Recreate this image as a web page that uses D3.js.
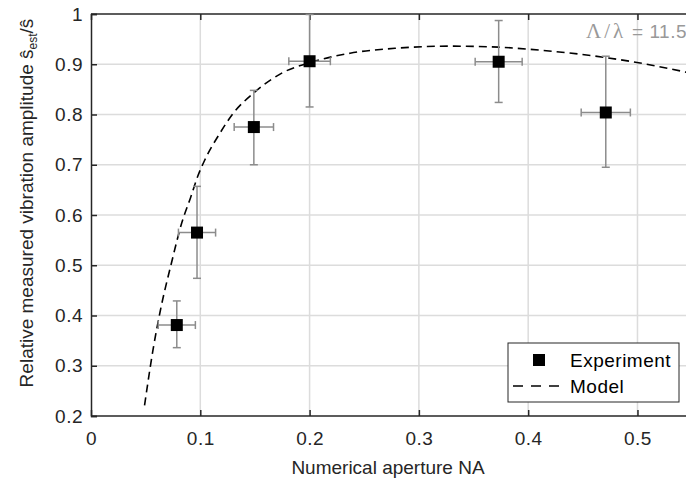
<!DOCTYPE html>
<html>
<head>
<meta charset="utf-8">
<script src="https://cdn.jsdelivr.net/npm/d3@7"></script>
<style>
  body { margin: 0; background: #fff; }
  text { font-family: "Liberation Sans", Arial, sans-serif; }
</style>
</head>
<body>
<script>
  /* measured points */
  var expNA   = [0.0785, 0.097, 0.149, 0.200, 0.373, 0.471];
  var expVal  = [0.381, 0.565, 0.775, 0.906, 0.905, 0.804];
  var expLo   = [0.336, 0.474, 0.700, 0.815, 0.824, 0.695];
  var expHi   = [0.429, 0.657, 0.848, 0.999, 0.987, 0.916];
  var expNAerr = [0.017, 0.017, 0.018, 0.019, 0.0215, 0.0225];

  /* model curve */
  var modelNA  = [0.049, 0.057, 0.063, 0.074, 0.083, 0.091, 0.098, 0.104, 0.118, 0.130, 0.149, 0.176, 0.200, 0.237, 0.280, 0.328, 0.373, 0.400, 0.472, 0.501, 0.545];
  var modelVal = [0.221, 0.335, 0.405, 0.508, 0.584, 0.634, 0.679, 0.709, 0.763, 0.802, 0.843, 0.884, 0.903, 0.922, 0.932, 0.936, 0.934, 0.930, 0.913, 0.903, 0.884];

  var xTicks = [0, 0.1, 0.2, 0.3, 0.4, 0.5];
  var yTicks = [0.2, 0.3, 0.4, 0.5, 0.6, 0.7, 0.8, 0.9, 1];

  var W = 686, H = 483;
  var margin = {top: 14, right: 0, bottom: 67, left: 91};

  var x = d3.scaleLinear().domain([0, 0.5444]).range([margin.left, W]);
  var y = d3.scaleLinear().domain([0.2, 1]).range([H - margin.bottom, margin.top]);

  var svg = d3.select("body").append("svg")
      .attr("width", W)
      .attr("height", H);

  // grid
  var grid = svg.append("g").attr("stroke", "#dcdcdc").attr("stroke-width", 1.5);
  grid.selectAll(".gx").data(xTicks.slice(1))
    .enter().append("line")
      .attr("x1", function(d) { return x(d); })
      .attr("x2", function(d) { return x(d); })
      .attr("y1", y(0.2)).attr("y2", y(1));
  grid.selectAll(".gy").data(yTicks.slice(1, -1))
    .enter().append("line")
      .attr("y1", function(d) { return y(d); })
      .attr("y2", function(d) { return y(d); })
      .attr("x1", x(0)).attr("x2", W);

  // axes (ticks inward, MATLAB style)
  var xAxis = d3.axisBottom(x).tickValues(xTicks).tickSize(-6).tickPadding(16)
      .tickFormat(function(d) { return d === 0 ? "0" : d3.format(".1f")(d); });
  var gx = svg.append("g")
      .attr("transform", "translate(0," + y(0.2) + ")")
      .call(xAxis);

  var xTop = d3.axisTop(x).tickValues(xTicks).tickSize(-6).tickFormat("");
  var gt = svg.append("g")
      .attr("transform", "translate(0," + y(1) + ")")
      .call(xTop);

  var yAxis = d3.axisLeft(y).tickValues(yTicks).tickSize(-6).tickPadding(8)
      .tickFormat(function(d) { return d === 1 ? "1" : d3.format(".1f")(d); });
  var gy = svg.append("g")
      .attr("transform", "translate(" + x(0) + ",0)")
      .call(yAxis);

  [gx, gt, gy].forEach(function(g) {
    g.select(".domain").attr("stroke", "#262626").attr("stroke-width", 1.5);
    g.selectAll(".tick line").attr("stroke", "#262626").attr("stroke-width", 1.5);
    g.selectAll(".tick text")
      .attr("fill", "#262626")
      .style("font-size", "19px")
      .style("letter-spacing", "0.5px")
      .style("font-family", "Liberation Sans, Arial, sans-serif");
  });
  gx.select(".domain").attr("d", "M" + x(0) + ",0H" + W);
  gt.select(".domain").attr("d", "M" + x(0) + ",0H" + W);

  // model curve
  var line = d3.line()
      .x(function(d) { return x(d[0]); })
      .y(function(d) { return y(d[1]); })
      .curve(d3.curveMonotoneX);
  svg.append("path")
      .datum(d3.zip(modelNA, modelVal))
      .attr("fill", "none")
      .attr("stroke", "#000")
      .attr("stroke-width", 1.6)
      .attr("stroke-dasharray", "8,5")
      .attr("d", line);

  // error bars
  var eb = svg.append("g").attr("stroke", "#8c8c8c").attr("stroke-width", 1.5);
  var cap = 4;
  expNA.forEach(function(na, i) {
    var cx = x(na), cy = y(expVal[i]);
    var yl = y(expLo[i]), yh = y(expHi[i]);
    var xl = x(na - expNAerr[i]), xh = x(na + expNAerr[i]);
    eb.append("line").attr("x1", cx).attr("x2", cx).attr("y1", yl).attr("y2", yh);
    eb.append("line").attr("x1", cx - cap).attr("x2", cx + cap).attr("y1", yl).attr("y2", yl);
    eb.append("line").attr("x1", cx - cap).attr("x2", cx + cap).attr("y1", yh).attr("y2", yh);
    eb.append("line").attr("x1", xl).attr("x2", xh).attr("y1", cy).attr("y2", cy);
    eb.append("line").attr("x1", xl).attr("x2", xl).attr("y1", cy - cap).attr("y2", cy + cap);
    eb.append("line").attr("x1", xh).attr("x2", xh).attr("y1", cy - cap).attr("y2", cy + cap);
  });

  // markers
  var ms = 12;
  svg.selectAll(".pt").data(expNA)
    .enter().append("rect")
      .attr("x", function(d) { return x(d) - ms / 2; })
      .attr("y", function(d, i) { return y(expVal[i]) - ms / 2; })
      .attr("width", ms).attr("height", ms)
      .attr("fill", "#000");

  // annotation
  var ann = svg.append("text")
      .attr("x", 687).attr("y", 38)
      .attr("text-anchor", "end")
      .attr("fill", "#999")
      .style("font-size", "19px");
  ann.append("tspan")
      .style("font-family", "Liberation Serif, Times New Roman, serif")
      .style("font-size", "21px")
      .style("letter-spacing", "3px")
      .text("Λ/λ");
  ann.append("tspan").style("letter-spacing", "0.5px").text(" = 11.5");

  // legend
  var lg = svg.append("g");
  lg.append("rect")
      .attr("x", 508).attr("y", 343)
      .attr("width", 171).attr("height", 59)
      .attr("fill", "#fff").attr("stroke", "#262626").attr("stroke-width", 1);
  lg.append("rect")
      .attr("x", 539 - ms / 2).attr("y", 360 - ms / 2)
      .attr("width", ms).attr("height", ms).attr("fill", "#000");
  lg.append("line")
      .attr("x1", 513).attr("x2", 566).attr("y1", 386).attr("y2", 386)
      .attr("stroke", "#000").attr("stroke-width", 1.6).attr("stroke-dasharray", "10,8");
  lg.selectAll(".lt").data(["Experiment", "Model"])
    .enter().append("text")
      .attr("x", 570)
      .attr("y", function(d, i) { return 367 + i * 26; })
      .style("font-size", "19px")
      .style("letter-spacing", "0.5px")
      .attr("fill", "#000")
      .text(function(d) { return d; });

  // axis labels
  svg.append("text")
      .attr("x", 388).attr("y", 474)
      .attr("text-anchor", "middle")
      .attr("fill", "#262626")
      .style("font-size", "19px")
      .text("Numerical aperture NA");

  var yl = svg.append("text")
      .attr("transform", "translate(33,203)rotate(-90)")
      .attr("text-anchor", "middle")
      .attr("fill", "#262626")
      .style("font-size", "19px");
  yl.append("tspan").text("Relative measured vibration amplitude ŝ");
  yl.append("tspan").attr("dy", 4).style("font-size", "12px").text("est");
  yl.append("tspan").attr("dy", -4).text("/ŝ");
</script>
</body>
</html>
